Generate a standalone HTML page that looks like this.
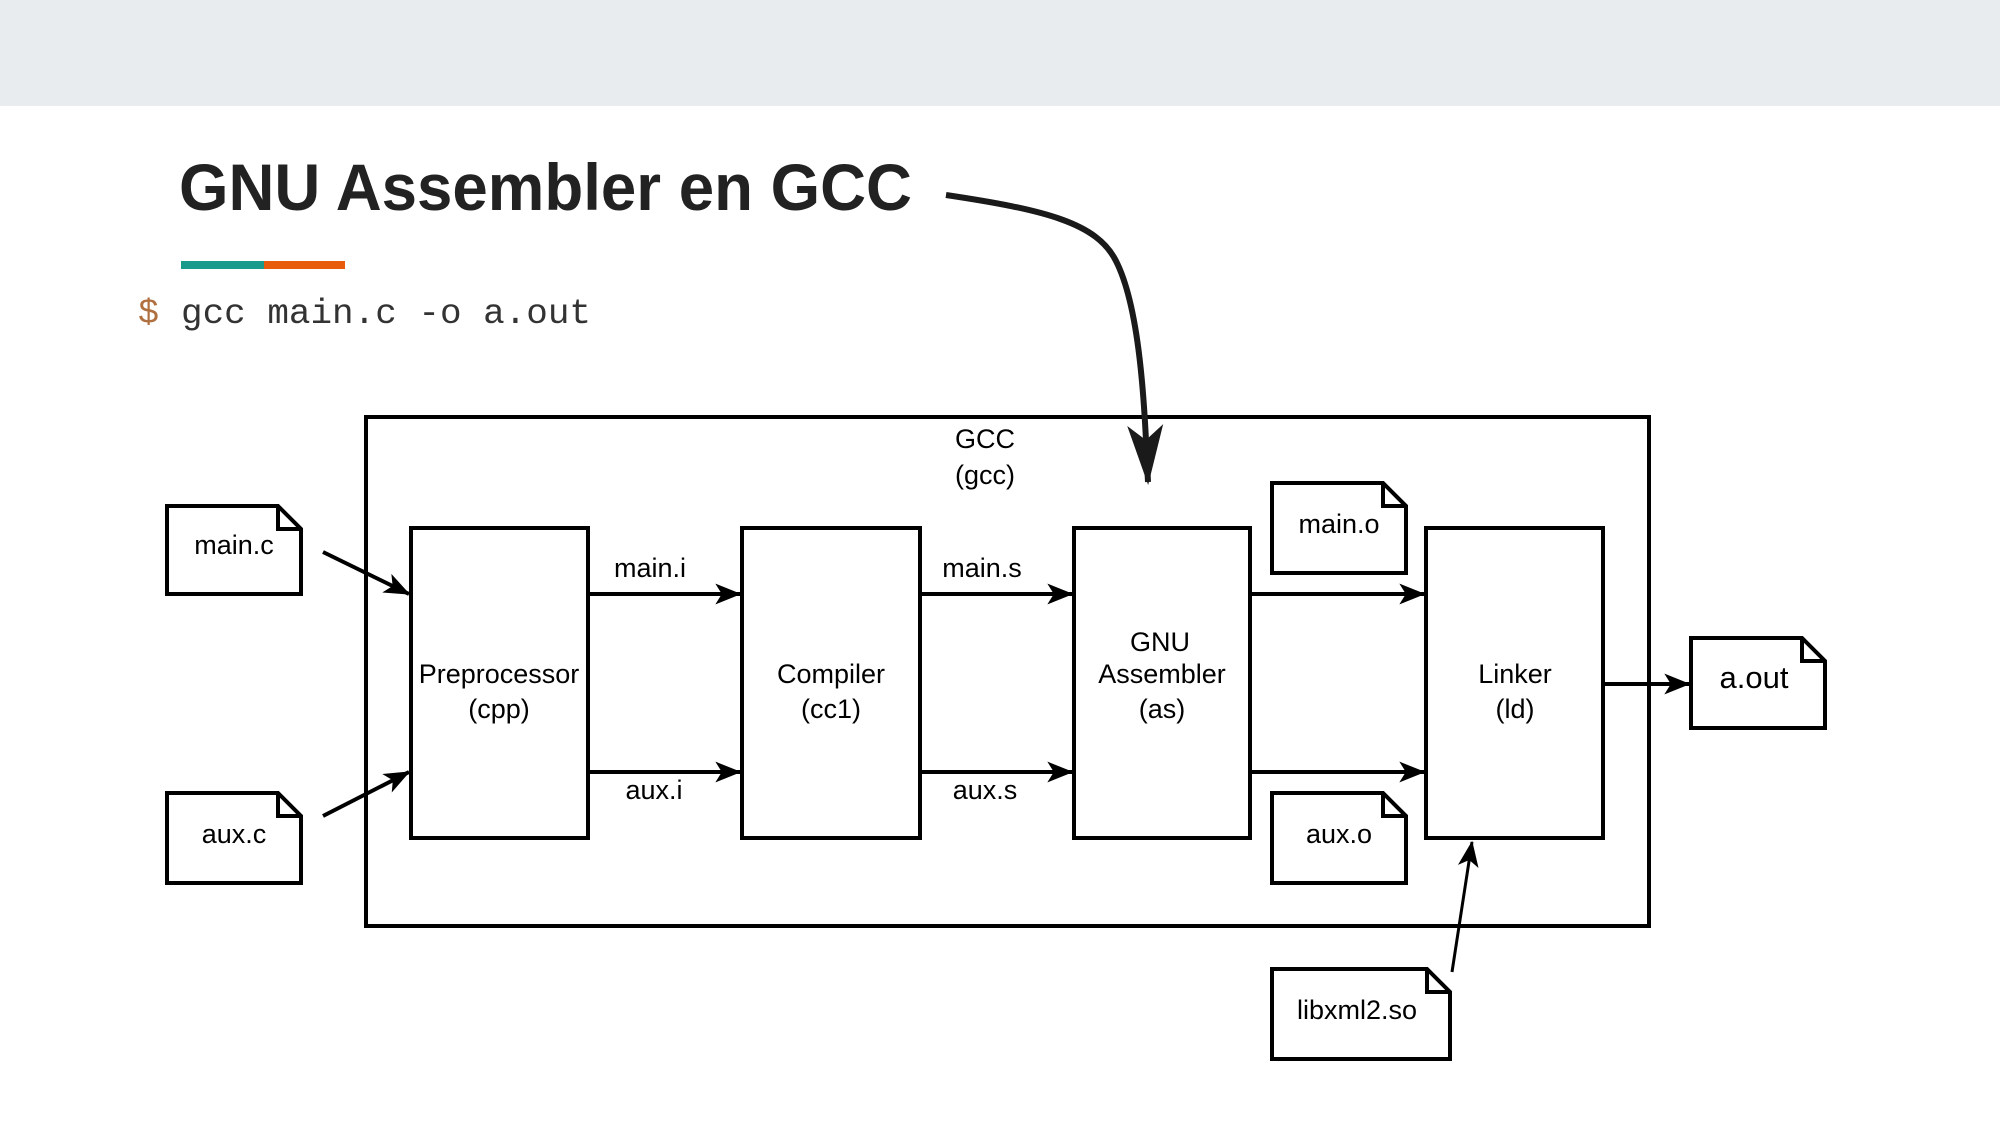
<!DOCTYPE html>
<html><head><meta charset="utf-8"><style>
html,body{margin:0;padding:0;background:#fff;}
body{width:2000px;height:1125px;overflow:hidden;position:relative;}
</style></head><body>
<svg width="2000" height="1125" xmlns="http://www.w3.org/2000/svg" style="position:absolute;left:0;top:0">
<defs>
<marker id="ah" viewBox="0 0 20 20" refX="19" refY="10" markerWidth="26" markerHeight="26" orient="auto" markerUnits="userSpaceOnUse">
<path d="M0,2 L20,10 L0,18 L5,10 Z" fill="#000"/>
</marker>
<marker id="ah2" viewBox="0 0 20 20" refX="19" refY="10" markerWidth="60" markerHeight="60" orient="auto" markerUnits="userSpaceOnUse">
<path d="M0,4 L20,10 L0,16 L5,10 Z" fill="#1a1a1a"/>
</marker>
</defs>
<rect x="0" y="0" width="2000" height="106" fill="#e9ecef"/>
<text x="179" y="210" font-family="Liberation Sans, sans-serif" font-weight="bold" font-size="66" fill="#222" textLength="733" lengthAdjust="spacingAndGlyphs">GNU Assembler en GCC</text>
<rect x="181" y="261" width="83" height="8" fill="#1a9a8a"/>
<rect x="264" y="261" width="81" height="8" fill="#e85a0c"/>
<text x="138" y="323" font-family="Liberation Mono, monospace" font-size="35" fill="#b07040">$</text>
<text x="181" y="323" font-family="Liberation Mono, monospace" font-size="35" fill="#333" textLength="410" lengthAdjust="spacingAndGlyphs">gcc main.c -o a.out</text>
<g fill="#fff" stroke="#000" stroke-width="4">
<rect x="366" y="417" width="1283" height="509"/>
<rect x="411" y="528" width="177" height="310"/>
<rect x="742" y="528" width="178" height="310"/>
<rect x="1074" y="528" width="176" height="310"/>
<rect x="1426" y="528" width="177" height="310"/>
<path d="M167,506 H278 L301,529 V594 H167 Z M278,506 V529 H301"/>
<path d="M167,793 H278 L301,816 V883 H167 Z M278,793 V816 H301"/>
<path d="M1272,483 H1383 L1406,506 V573 H1272 Z M1383,483 V506 H1406"/>
<path d="M1272,793 H1383 L1406,816 V883 H1272 Z M1383,793 V816 H1406"/>
<path d="M1272,969 H1427 L1450,992 V1059 H1272 Z M1427,969 V992 H1450"/>
<path d="M1691,638 H1802 L1825,661 V728 H1691 Z M1802,638 V661 H1825"/>
</g>
<g stroke="#000" stroke-width="4" fill="none" marker-end="url(#ah)">
<line x1="323" y1="552" x2="409" y2="594"/>
<line x1="323" y1="816" x2="409" y2="772"/>
<line x1="588" y1="594" x2="740" y2="594"/>
<line x1="588" y1="772" x2="740" y2="772"/>
<line x1="920" y1="594" x2="1072" y2="594"/>
<line x1="920" y1="772" x2="1072" y2="772"/>
<line x1="1250" y1="594" x2="1424" y2="594"/>
<line x1="1250" y1="772" x2="1424" y2="772"/>
<line x1="1603" y1="684" x2="1689" y2="684"/>
<line x1="1452" y1="972" x2="1472" y2="842" stroke-width="3"/>
</g>
<g font-family="Liberation Sans, sans-serif" font-size="27" fill="#000" text-anchor="middle">
<text x="985" y="448">GCC</text>
<text x="985" y="484">(gcc)</text>
<text x="499" y="683">Preprocessor</text>
<text x="499" y="718">(cpp)</text>
<text x="831" y="683">Compiler</text>
<text x="831" y="718">(cc1)</text>
<text x="1160" y="651">GNU</text>
<text x="1162" y="683">Assembler</text>
<text x="1162" y="718">(as)</text>
<text x="1515" y="683">Linker</text>
<text x="1515" y="718">(ld)</text>
<text x="650" y="577">main.i</text>
<text x="654" y="799">aux.i</text>
<text x="982" y="577">main.s</text>
<text x="985" y="799">aux.s</text>
<text x="234" y="554">main.c</text>
<text x="234" y="843">aux.c</text>
<text x="1339" y="533">main.o</text>
<text x="1339" y="843">aux.o</text>
<text x="1357" y="1019">libxml2.so</text>
<text x="1754" y="688" font-size="31">a.out</text>
</g>
<path d="M946,195 C1046,210 1097,223 1116,261 C1142,312 1145,421 1148,482" fill="none" stroke="#1a1a1a" stroke-width="6" marker-end="url(#ah2)"/>
</svg>
</body></html>
